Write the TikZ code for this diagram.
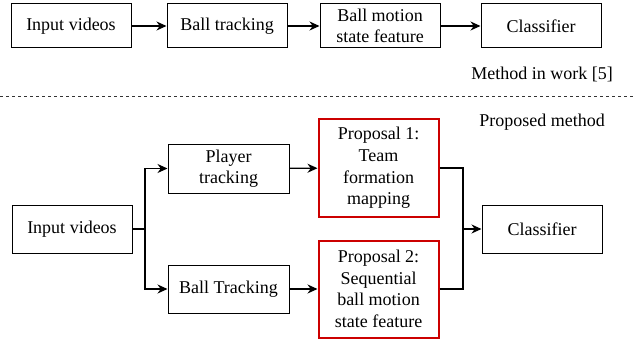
\documentclass[tikz,border=0pt]{standalone}
\usepackage{fontspec}
\setmainfont{Liberation Serif}
\newfontfamily\tnrfont{Liberation Serif}
\newcommand\txfont{\tnrfont\fontsize{18}{21.6}\selectfont}
\usetikzlibrary{arrows.meta}
\definecolor{propred}{RGB}{204,0,0}
\begin{document}
\begin{tikzpicture}[x=1pt,y=-1pt,
  every node/.append style={execute at begin node=\txfont},
  blk/.style={draw=black,line width=1pt,minimum width=120pt,inner sep=0pt,align=center,font=\txfont},
  propbox/.style={draw=propred,line width=2pt,minimum width=120pt,minimum height=97pt,inner sep=0pt,align=center,font=\txfont},
  conn/.style={line width=1.2pt},
  arr/.style={line width=1.2pt,-{Stealth[length=10pt,width=9pt]}},
  lbl/.style={inner sep=0pt,font=\txfont}
]
\useasboundingbox (0,0) rectangle (634,342);
% top row
\node[blk,minimum height=44pt] (t1) at (71,26) {Input videos};
\node[blk,minimum height=44pt] (t2) at (227,26) {Ball tracking};
\node[blk,minimum height=44pt] (t3) at (380,26) {Ball motion\\state feature};
\node[blk,minimum height=44pt] (t4) at (541,26) {Classifier};
\draw[arr] (t1) -- (t2);
\draw[arr] (t2) -- (t3);
\draw[arr] (t3) -- (t4);
\node[lbl,anchor=east] (m1) at (613,74) {Method in work [5]};
% separator
\coordinate (dl) at (0,96);
\coordinate (dr) at (634,96);
\draw[line width=0.8pt,dash pattern=on 3pt off 3pt,black!80] (dl) -- (dr);
\node[lbl,anchor=east] (m2) at (605,122) {Proposed method};
% bottom
\node[blk,minimum height=48pt] (b1) at (72,229) {Input videos};
\node[blk,minimum height=49pt,minimum width=121pt] (pt) at (228.5,168.5) {Player\\tracking};
\node[blk,minimum height=48pt,minimum width=121pt] (bt) at (228.5,289) {Ball Tracking};
\node[propbox] (p1) at (378.5,168) {Proposal 1:\\Team\\formation\\mapping};
\node[propbox] (p2) at (378.5,289) {Proposal 2:\\Sequential\\ball motion\\state feature};
\node[blk,minimum height=48pt] (c2) at (542,229) {Classifier};
\coordinate (s) at (145,229);
\coordinate (m) at (463,229);
\draw[conn] (b1.east) -- (s);
\draw[arr] (s) |- (pt.west);
\draw[arr] (s) |- (bt.west);
\draw[arr] (pt) -- (p1);
\draw[arr] (bt) -- (p2);
\draw[conn] (p1.east) -| (m);
\draw[conn] (p2.east) -| (m);
\draw[arr] (m) -- (c2.west);
\end{tikzpicture}
\end{document}
